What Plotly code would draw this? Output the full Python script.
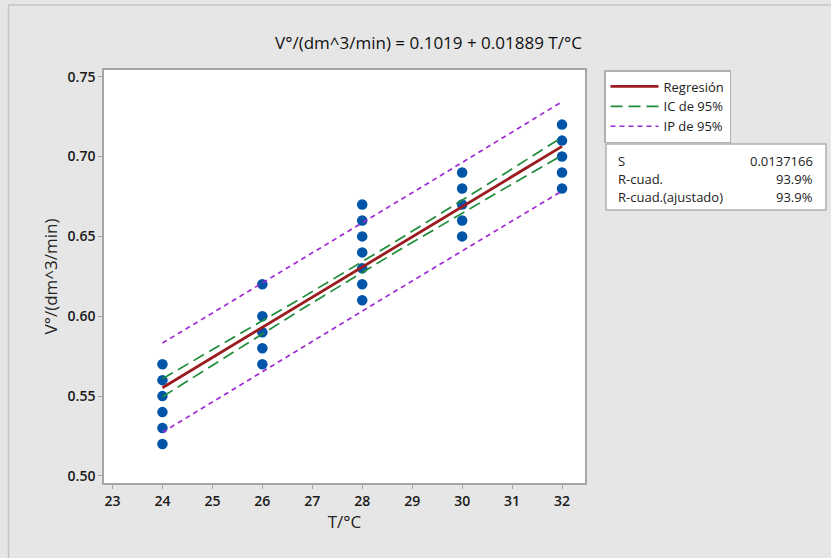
import numpy as np
import plotly.graph_objects as go

# ---- data (distinct visible markers) ----
temp_24 = [24, 24, 24, 24, 24, 24]
vol_24 = [0.57, 0.56, 0.55, 0.54, 0.53, 0.52]
temp_26 = [26, 26, 26, 26, 26]
vol_26 = [0.62, 0.60, 0.59, 0.58, 0.57]
temp_28 = [28, 28, 28, 28, 28, 28, 28]
vol_28 = [0.67, 0.66, 0.65, 0.64, 0.63, 0.62, 0.61]
temp_30 = [30, 30, 30, 30, 30]
vol_30 = [0.69, 0.68, 0.67, 0.66, 0.65]
temp_32 = [32, 32, 32, 32, 32]
vol_32 = [0.72, 0.71, 0.70, 0.69, 0.68]

x_data = temp_24 + temp_26 + temp_28 + temp_30 + temp_32
y_data = vol_24 + vol_26 + vol_28 + vol_30 + vol_32

# design: temperatures and (estimated) number of observations at each,
# many markers overlap; n is implied by R-cuad. = R-cuad.(ajustado)
design_temps = [24, 26, 28, 30, 32]
obs_per_temp = [14, 14, 14, 14, 14]

# regression statistics shown in the chart
intercept = 0.1019
slope = 0.01889
s_value = 0.0137166
r_sq = "93.9%"
r_sq_adj = "93.9%"
t_crit = 1.9955  # t(0.975, n-2)

x_tick_vals = [23, 24, 25, 26, 27, 28, 29, 30, 31, 32]
y_tick_vals = [0.50, 0.55, 0.60, 0.65, 0.70, 0.75]

# ---- fitted line and bands ----
x_obs = np.repeat(np.array(design_temps, dtype=float), obs_per_temp)
n = len(x_obs)
xbar = x_obs.mean()
sxx = ((x_obs - xbar) ** 2).sum()
xf = np.linspace(min(design_temps), max(design_temps), 80)
yf = intercept + slope * xf
ci = t_crit * s_value * np.sqrt(1 / n + (xf - xbar) ** 2 / sxx)
pi = t_crit * s_value * np.sqrt(1 + 1 / n + (xf - xbar) ** 2 / sxx)

FONT = "Open Sans"
RED = "#9b1c1f"
GREEN = "#1e8c3a"
PURPLE = "#a02ad6"
BLUE = "#0055a8"
CI_DASH = "12px,6px"
PI_DASH = "5px,4px"

fig = go.Figure()
fig.add_trace(go.Scatter(x=x_data, y=y_data, mode="markers",
                         marker=dict(color=BLUE, size=10.5), showlegend=False))
fig.add_trace(go.Scatter(x=xf, y=yf, mode="lines", name="Regresión",
                         line=dict(color=RED, width=2.8)))
fig.add_trace(go.Scatter(x=xf, y=yf + ci, mode="lines", name="IC de 95%",
                         line=dict(color=GREEN, width=1.7, dash=CI_DASH)))
fig.add_trace(go.Scatter(x=xf, y=yf - ci, mode="lines", showlegend=False,
                         line=dict(color=GREEN, width=1.7, dash=CI_DASH)))
fig.add_trace(go.Scatter(x=xf, y=yf + pi, mode="lines", name="IP de 95%",
                         line=dict(color=PURPLE, width=1.7, dash=PI_DASH)))
fig.add_trace(go.Scatter(x=xf, y=yf - pi, mode="lines", showlegend=False,
                         line=dict(color=PURPLE, width=1.7, dash=PI_DASH)))

W, H = 831, 558
L, R, T, B = 104, 585, 70, 483
pw, ph = R - L, B - T


def px(x):
    return (x - L) / pw


def py(y):
    return (B - y) / ph


axis_common = dict(showline=True, mirror=True, linecolor="#a6a6a6", linewidth=1.5,
                   ticks="outside", ticklen=4, tickcolor="#a6a6a6", showgrid=False,
                   zeroline=False,
                   tickfont=dict(family=FONT, size=14, color="#1a1a1a", weight=600))

fig.update_layout(
    width=W, height=H,
    margin=dict(l=L, r=W - R, t=T, b=H - B),
    paper_bgcolor="#e6e6e6",
    plot_bgcolor="white",
    font=dict(family=FONT, color="#222222"),
    xaxis=dict(range=[22.83, 32.46], tickvals=x_tick_vals,
               title=dict(text="T/°C", font=dict(family=FONT, size=17), standoff=8),
               **axis_common),
    yaxis=dict(range=[0.4956, 0.7542], tickvals=y_tick_vals, tickformat=".2f",
               title=dict(text="V°/(dm^3/min)", font=dict(family=FONT, size=17), standoff=6),
               **axis_common),
    legend=dict(x=px(604), y=1.0, xanchor="left", yanchor="top",
                bgcolor="white", bordercolor="#b0b0b0", borderwidth=1.5,
                font=dict(family=FONT, size=13, color="#222222"),
                tracegroupgap=0, itemwidth=48),
    showlegend=True,
)

fig.add_annotation(text="V°/(dm^3/min) = 0.1019 + 0.01889 T/°C",
                   xref="paper", yref="paper", x=px(428), y=py(43),
                   xanchor="center", yanchor="middle", showarrow=False,
                   font=dict(family=FONT, size=17, color="#111111"))

# stats box
fig.add_shape(type="rect", xref="paper", yref="paper",
              x0=px(606), x1=px(826), y0=py(210), y1=py(144),
              fillcolor="white", line=dict(color="#b0b0b0", width=1.5), layer="below")
rows = [("S", f"{s_value}"), ("R-cuad.", r_sq), ("R-cuad.(ajustado)", r_sq_adj)]
for i, (lab, val) in enumerate(rows):
    yy = py(161 + 18 * i)
    fig.add_annotation(text=lab, xref="paper", yref="paper", x=px(616), y=yy,
                       xanchor="left", yanchor="middle", showarrow=False,
                       font=dict(family=FONT, size=13, color="#222222"))
    fig.add_annotation(text=val, xref="paper", yref="paper", x=px(815), y=yy,
                       xanchor="right", yanchor="middle", showarrow=False,
                       font=dict(family=FONT, size=13, color="#222222"))

# outer frame lines
fig.add_shape(type="line", xref="paper", yref="paper", x0=px(8.5), x1=px(835),
              y0=py(5), y1=py(5), line=dict(color="#c4c4c4", width=1.5))
fig.add_shape(type="line", xref="paper", yref="paper", x0=px(8.5), x1=px(8.5),
              y0=py(5), y1=py(562), line=dict(color="#c4c4c4", width=1.5))

fig.write_html("out.html")
